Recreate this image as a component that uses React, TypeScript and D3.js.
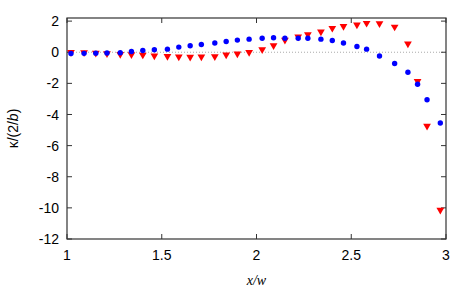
import React, { useEffect, useRef } from "react";
import * as d3 from "d3";

// x/w positions of the samples
const xValues = [
  1.021, 1.09, 1.152, 1.211, 1.281, 1.34, 1.4, 1.461, 1.53, 1.59, 1.65, 1.709,
  1.78, 1.84, 1.899, 1.961, 2.03, 2.09, 2.15, 2.22, 2.271, 2.34, 2.4, 2.459,
  2.53, 2.581, 2.649, 2.729, 2.799, 2.85, 2.9, 2.97,
];

// blue diamonds
const kappaBlue = [
  -0.08, -0.07, -0.06, -0.05, -0.03, 0.05, 0.11, 0.16, 0.2, 0.33, 0.42, 0.5,
  0.59, 0.69, 0.78, 0.84, 0.9, 0.93, 0.9, 0.9, 0.9, 0.84, 0.75, 0.59, 0.37,
  0.2, -0.24, -0.72, -1.29, -2.06, -3.05, -4.55,
];

// red triangles
const kappaRed = [
  0.0, -0.02, -0.05, -0.08, -0.13, -0.14, -0.17, -0.22, -0.26, -0.29, -0.31,
  -0.29, -0.27, -0.16, -0.1, 0.0, 0.18, 0.43, 0.78, 0.99, 1.14, 1.31, 1.55,
  1.67, 1.76, 1.87, 1.84, 1.63, 0.54, -1.87, -4.74, -10.14,
];

const xTicks = [1, 1.5, 2, 2.5, 3];
const yTicks = [-12, -10, -8, -6, -4, -2, 0, 2];

export default function App() {
  const ref = useRef<SVGSVGElement>(null);

  useEffect(() => {
    const width = 474;
    const height = 290;
    const margin = { top: 18, left: 67, bottom: 51, right: 28 };
    const iwidth = width - margin.left - margin.right;
    const iheight = height - margin.top - margin.bottom;

    const svg = d3.select(ref.current);
    svg.selectAll("*").remove();

    const g = svg.append("g").attr("transform", `translate(${margin.left}, ${margin.top})`);

    const x = d3.scaleLinear().domain([1, 3]).range([0, iwidth]);
    const y = d3.scaleLinear().domain([-12, 2.2]).range([iheight, 0]);

    const font = "'Liberation Sans', Arial, sans-serif";

    // zero line
    g.append("line")
      .attr("x1", 0)
      .attr("x2", iwidth)
      .attr("y1", y(0))
      .attr("y2", y(0))
      .attr("stroke", "#aaa")
      .attr("stroke-width", 1)
      .attr("stroke-dasharray", "1,2");

    // frame
    g.append("rect")
      .attr("x", 0)
      .attr("y", 0)
      .attr("width", iwidth)
      .attr("height", iheight)
      .attr("fill", "none")
      .attr("stroke", "#333")
      .attr("stroke-width", 1.2);

    const tick = 5;

    // ticks + labels, mirrored inside on all sides
    xTicks.forEach((t) => {
      g.append("line").attr("x1", x(t)).attr("x2", x(t)).attr("y1", iheight).attr("y2", iheight - tick)
        .attr("stroke", "#333");
      g.append("line").attr("x1", x(t)).attr("x2", x(t)).attr("y1", 0).attr("y2", tick)
        .attr("stroke", "#333");
      g.append("text")
        .attr("x", x(t))
        .attr("y", iheight + 21)
        .attr("text-anchor", "middle")
        .style("font-family", font)
        .style("font-size", "14px")
        .text(d3.format("")(t));
    });

    yTicks.forEach((t) => {
      g.append("line").attr("x1", 0).attr("x2", tick).attr("y1", y(t)).attr("y2", y(t))
        .attr("stroke", "#333");
      g.append("line").attr("x1", iwidth).attr("x2", iwidth - tick).attr("y1", y(t)).attr("y2", y(t))
        .attr("stroke", "#333");
      g.append("text")
        .attr("x", -8)
        .attr("y", y(t))
        .attr("dy", "0.36em")
        .attr("text-anchor", "end")
        .style("font-family", font)
        .style("font-size", "14px")
        .text(t);
    });

    // series
    const points = xValues.map((xv, i) => ({ x: xv, blue: kappaBlue[i], red: kappaRed[i] }));

    const tri = d3.symbol().type(d3.symbolTriangle).size(26);
    g.selectAll("path.red")
      .data(points)
      .enter()
      .append("path")
      .attr("class", "red")
      .attr("d", tri)
      .attr("transform", (d) => `translate(${x(d.x)}, ${y(d.red)}) rotate(180)`)
      .attr("fill", "#ff0000");

    g.selectAll("circle.blue")
      .data(points)
      .enter()
      .append("circle")
      .attr("class", "blue")
      .attr("cx", (d) => x(d.x))
      .attr("cy", (d) => y(d.blue))
      .attr("r", 2.7)
      .attr("fill", "#0000ff");

    // axis titles
    const xl = g.append("text")
      .attr("x", iwidth / 2)
      .attr("y", iheight + 46)
      .attr("text-anchor", "middle")
      .style("font-family", "'Liberation Serif', 'Times New Roman', serif")
      .style("font-style", "italic")
      .style("font-size", "14px");
    xl.text("x/w");

    const yl = svg.append("text")
      .attr("transform", `translate(18, ${margin.top + iheight / 2}) rotate(-90)`)
      .attr("text-anchor", "middle")
      .style("font-family", font)
      .style("font-size", "14px");
    yl.append("tspan").text("κ/(2/");
    yl.append("tspan").style("font-style", "italic").text("b");
    yl.append("tspan").text(")");
  }, []);

  return (
    <svg
      ref={ref}
      width={474}
      height={290}
      style={{ position: "absolute", left: 0, top: 0, background: "#fff" }}
    />
  );
}
